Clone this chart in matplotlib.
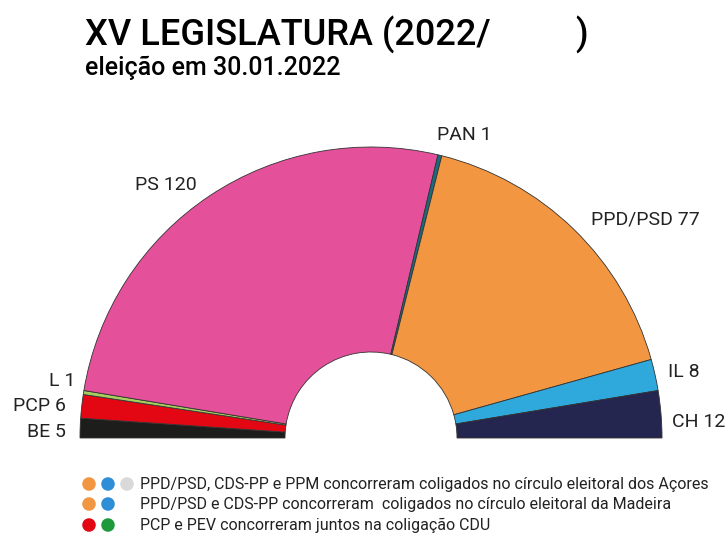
import matplotlib
matplotlib.use("Agg")
import matplotlib.pyplot as plt
from matplotlib.patches import Wedge

plt.rcParams['font.family'] = ['Roboto', 'DejaVu Sans']

# seats, left to right
parties = ["BE", "PCP", "L", "PS", "PAN", "PPD/PSD", "IL", "CH"]
seats = [5, 6, 1, 120, 1, 77, 8, 12]
colors = ["#1d1d1b", "#e30613", "#a6cf5e", "#e5509a", "#1a6a80",
          "#f29641", "#2fa9dc", "#24264f"]

# label positions in pixels (x, y, ha)
label_pos = {
    "BE": (66, 432, "right"),
    "PCP": (66, 406, "right"),
    "L": (75, 381, "right"),
    "PS": (166, 185, "center"),
    "PAN": (464, 135, "center"),
    "PPD/PSD": (645, 220, "center"),
    "IL": (668, 372, "left"),
    "CH": (672, 422, "left"),
}

legend_lines = [
    (["#f29641", "#2f8fd6", "#d9d9d9"],
     "PPD/PSD, CDS-PP e PPM concorreram coligados no círculo eleitoral dos Açores"),
    (["#f29641", "#2f8fd6"],
     "PPD/PSD e CDS-PP concorreram  coligados no círculo eleitoral da Madeira"),
    (["#e30613", "#1e9a3c"],
     "PCP e PEV concorreram juntos na coligação CDU"),
]

fig = plt.figure(figsize=(7.26, 5.36), dpi=100)
ax = fig.add_axes([0, 0, 1, 1])
ax.set_xlim(0, 726)
ax.set_ylim(536, 0)
ax.axis("off")

cx, cy = 371, 438
r_out, r_in = 291, 86
total = sum(seats)

start = 180.0
for p, s, c in zip(parties, seats, colors):
    end = start + s / total * 180
    ax.add_patch(Wedge((cx, cy), r_out, start, end, width=r_out - r_in,
                       facecolor=c, edgecolor="#333333", linewidth=0.6))
    x, y, ha = label_pos[p]
    ax.text(x, y, f"{p} {s}", fontsize=14, ha=ha, va="center", color="#222222")
    start = end

# title
ax.text(85, 46, "XV LEGISLATURA (2022/", fontsize=26, fontweight="medium",
        ha="left", va="baseline", color="black")
ax.text(575, 46, ")", fontsize=26, fontweight="medium",
        ha="left", va="baseline", color="black")
ax.text(85, 75, "eleição em 30.01.2022", fontsize=18, fontweight="medium",
        ha="left", va="baseline", color="black")

# legend
ys = [484, 504, 525]
for (dots, txt), y in zip(legend_lines, ys):
    for i, dc in enumerate(dots):
        ax.scatter(89 + i * 19, y, s=95, color=dc, edgecolor="none")
    ax.text(140, y, txt, fontsize=11.5, ha="left", va="center", color="#222222")

fig.savefig("out.png", dpi=100)
